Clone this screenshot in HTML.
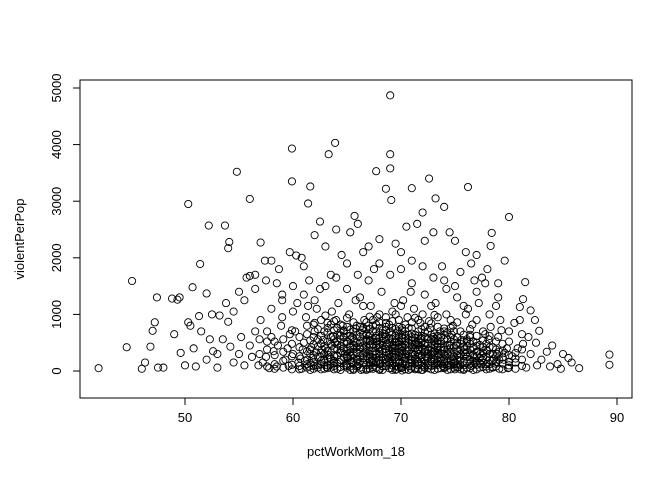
<!DOCTYPE html>
<html><head><meta charset="utf-8"><style>
body{margin:0;background:#fff}
svg{display:block;font-family:"Liberation Sans",sans-serif}
</style></head><body>
<svg id="chart" width="672" height="480">
<rect x="80" y="80" width="552" height="318" fill="none" stroke="#000"/>
<g id="pts"></g>
<g id="axes"></g>
<text x="356" y="456" text-anchor="middle" font-size="13">pctWorkMom_18</text>
<text transform="translate(24,239) rotate(-90)" text-anchor="middle" font-size="13">violentPerPop</text>
</svg>
<script>
const xTicks=[50,60,70,80,90];
const yTicks=[0,1000,2000,3000,4000,5000];
const outliers="69,4870;63.9,4030;63.3,3830;69,3830;59.9,3930;69,3580;67.7,3530;54.8,3520;59.9,3350;61.6,3260;71,3230;68.6,3220;76.2,3250;72.6,3400;50.3,2950;69.1,3020;65.7,2740;56,3040;73.2,3050;74,2900;72,2800;61.4,2960;64,2500;66,2600;80,2720;78.4,2440;78.3,2210;52.2,2570;53.7,2570;54.1,2280;57,2270;54,2170;59.7,2100;60.3,2040;58,1950;62.5,2640;65.3,2450;67,2200;70,2100;71.5,2600;73,2450;75,2300;76,2100;77,2050;79.6,1950;45.1,1590;47.4,1300;49.5,1300;49.3,1260;51.4,1890;50.7,1480;52,1370;55,1400;48.8,1280;60.8,2000;62,2400;63,2200;64.5,2050;66.5,2100;68,2330;69.5,2250;70.5,2550;72.2,2300;74.5,2450;76.5,1900;78,1800;57.4,1950;58.7,1800;56.5,1700;61,1850;63.5,1700;65,1900;67.5,1800;71,1950;73.8,1850;75.5,1750;77.5,1650;79,1550;81.5,1570;81.3,1270;81,1130;82,1070;80.5,850;82.8,710;82.4,900;84,450;83.5,340;85,300;85.5,230;84.8,40;86.5,50;89.3,290;89.3,110;42,50;44.6,420;46,40;46.3,150;46.8,430;47,710;47.2,860;47.5,60;49.6,320;50,100;50.3,860;50.5,800;51,80;51.3,970;52.3,560;52.6,350;53,60;53.2,980;53.5,560;54,870;54.2,430;55.2,600;55.7,1650;56,1680;52.5,1000;53.8,1200;54.5,1050;55.5,1250;56.5,1450;57.5,1600;58.5,1550;59,1350;60,1500;61.5,1600;62.5,1450;52,200;53,300;54.5,150;55,300;55.5,100;56,450;56.5,700;57,900;57.5,250;58,600;58.5,80;59,950;59.5,400;51.5,700;50.8,400;48,60;49,650;84.5,120;83,200;82.5,500;83.8,80;85.8,150;82,300;81.8,600;80.8,400;81.2,200";
const core="60,300;60.5,150;61,500;61.5,80;62,700;62.5,250;63,400;63.5,120;64,900;64.5,350;65,60;65.5,600;66,200;66.5,450;67,800;67.5,100;68,300;68.5,650;69,150;69.5,500;70,50;70.5,350;71,750;71.5,200;72,400;72.5,100;73,600;73.5,280;74,50;74.5,450;75,150;75.5,700;76,300;76.5,90;77,500;77.5,200;78,350;78.5,60;79,600;79.5,200;80,100;60.2,700;61.2,950;62.2,1100;63.2,850;64.2,1200;65.2,1000;66.2,1300;67.2,1150;68.2,1400;69.2,1050;70.2,1250;71.2,1100;72.2,1350;73.2,1200;74.2,1000;75.2,1300;76.2,1100;77.2,1200;78.2,1000;79.2,900;60.8,40;61.8,230;62.8,550;63.8,90;64.8,300;65.8,750;66.8,40;67.8,520;68.8,230;69.8,900;70.8,130;71.8,560;72.8,30;73.8,350;74.8,800;75.8,40;76.8,250;77.8,650;78.8,130;79.8,400;59.3,200;58.2,350;57.2,150;56.2,250;57.8,50;59.7,650;58.9,800;66.3,20;67.3,180;68.3,90;69.3,320;70.3,210;71.3,30;72.3,260;73.3,140;74.3,380;75.3,70;64.3,160;65.3,410;63.3,280;62.3,60;66.7,330;67.7,620;68.7,480;69.7,700;70.7,560;71.7,420;72.7,760;73.7,520;74.7,640;65.7,520;64.7,720;63.7,620;62.7,380;61.7,420;60.7,220;67.1,250;68.1,130;69.1,50;70.1,420;71.1,300;72.1,80;73.1,200;74.1,270;75.1,450;76.1,520;77.1,350;78.1,560;66.1,120;65.1,230;64.1,470;63.1,70;62.1,330;61.1,180;67.9,400;68.9,280;69.9,160;70.9,40;71.9,620;72.9,330;73.9,90;74.9,200;75.9,380;76.9,150;77.9,80;78.9,300;79.9,50;66.9,560;65.9,340;64.9,100;63.9,500;62.9,200;61.9,600;60.9,380;67.4,40;68.4,560;69.4,400;70.4,620;71.4,500;72.4,220;73.4,430;74.4,110;75.4,240;76.4,640;77.4,120;66.4,720;65.4,160;64.4,630;63.4,240;68.6,850;70.6,950;72.6,880;74.6,900;66.6,900;64.6,800;76.6,820;69.6,30;71.6,370;73.6,700;75.6,550;67.6,350;65.6,40;63.6,450;61.6,300;77.6,420;78.6,220;79.6,320;80.6,150;81.6,60;82.6,100;80.3,260;81.3,480;79.3,720;78.3,780;59.6,90;58.6,450;57.6,700;56.8,100;68,20;70,80;72,20;66,90;74,120;69,700;71,480;67,610;73,350;65,270;75,30;63,980;68,1000;70,1150;72,1000;74,750;76,1000;62,850;60,1050;58,1100;77,900;80,700;81,900;59,1250;61,1350;63,1500;65,1450;67,1600;69,1700;71,1550;73,1650;75,1500;77,1400;79,1300;66,1700;70,1800;72,1850;74,1600;68,1900;64,1650;62,1250;60.4,1200;76.8,1600;78.8,1150;70.9,1400;66.5,1150;67.8,950;69.4,1200;71.8,850;73.4,950;65.8,1250;63.6,1050;61.4,1150;75.8,1150;74.2,1450;77.8,1550;72.8,1150";
const dense="58.3:120,280,520,40|59.1:60,340,180,560|59.9:110,260,480,30,720|60.6:90,420,260,600,30|61.3:60,200,350,650,120,800|61.9:40,150,280,470,820,90|62.6:30,180,320,480,120,620,900|63.2:100,220,360,520,50,680,760|63.8:30,180,260,400,560,720,140,880|64.4:70,200,320,440,560,680,20,820|65.0:130,240,360,480,520,660,90,780,940|65.6:20,150,280,380,460,560,700,230,860|66.2:60,160,260,380,500,600,680,780,420|66.8:110,190,270,370,430,520,660,740,860,20|67.4:70,140,220,290,410,480,560,700,800,900|68.0:40,120,200,260,340,420,480,580,680,760,860|68.6:90,150,210,330,390,440,540,600,720,780,950|69.2:20,100,180,250,360,420,460,560,640,760,880|69.8:60,130,200,270,330,390,460,520,600,660,780|70.4:30,110,170,240,290,380,460,530,580,700,820|71.0:80,150,190,260,330,420,540,600,660,860|71.6:30,100,160,250,300,380,460,540,620,700,900|72.2:60,130,190,330,370,460,500,600,680,780|72.8:90,170,210,280,360,420,500,560,640,840|73.4:40,110,180,240,320,380,480,540,620,780|74.0:70,150,210,300,380,420,560,640,700|74.6:30,100,180,260,330,400,520,600,760|75.2:60,120,200,280,350,500,600,860|75.8:20,100,170,260,330,430,520,640|76.4:50,130,200,290,380,480,600,740|77.0:30,110,180,260,340,440,620|77.6:70,150,230,320,540,700|78.2:40,120,200,300,420,620|78.8:80,160,260,380,520|79.4:30,130,240,360,480|80.0:60,160,280,520|80.6:40,220,320|81.2:90,380,650|57.6:80,380,520|56.9:300,560|65.3:80,330,620|67.1:160,350,540,960|69.5:240,580,1000|71.3:220,480,940|73.1:130,570,990|70.1:10,520,720";
const dense2="61.6:20,140,380,540|62.3:100,250,430,560,740|62.9:40,150,300,440,700|63.5:60,210,330,480,600,820|64.1:40,130,270,380,520,640,760|64.7:90,240,400,500,600,700|65.3:20,190,270,430,560,730|65.9:80,200,320,420,500,640,800|66.5:30,140,230,310,400,540,640,760|67.1:40,100,210,300,460,520,650,740|67.7:60,160,240,300,440,520,580,700,820|68.3:20,80,180,240,380,460,530,620,720|68.9:50,130,200,300,370,500,580,680,820|69.5:20,90,160,290,340,440,520,620,740|70.1:60,140,240,300,360,440,580,640,760|70.7:20,90,200,260,350,420,500,640,760|71.3:50,130,210,290,400,460,580,640|71.9:20,100,160,240,280,420,500,580,740|72.5:50,140,240,300,380,480,560,700|73.1:20,100,170,290,340,460,520,660|73.7:50,130,200,300,420,480,600|74.3:20,90,170,230,310,460,560,680|74.9:60,120,260,340,420,560,700|75.5:30,110,190,300,380,480|76.1:60,150,250,330,440,560|76.7:20,110,180,280,420,520|77.3:60,140,230,300,460|77.9:30,120,250,380,480|78.5:70,180,300,420|79.1:40,200,340";
let points=(outliers+";"+core).split(";").map(s=>s.split(",").map(Number));
(dense+"|"+dense2).split("|").forEach(r=>{const [x,ys]=r.split(":");ys.split(",").forEach(y=>points.push([+x,+y]));});
const xs=v=>185+(v-50)*10.8;
const ys=v=>371-v*0.0566;
const NS="http://www.w3.org/2000/svg";
const g=document.getElementById("pts");
points.forEach(p=>{const c=document.createElementNS(NS,"circle");
c.setAttribute("cx",xs(p[0]));c.setAttribute("cy",ys(p[1]));c.setAttribute("r",3.6);
c.setAttribute("fill","none");c.setAttribute("stroke","#000");c.setAttribute("stroke-width","0.9");


g.appendChild(c);});
const a=document.getElementById("axes");
function el(t,at,txt){const e=document.createElementNS(NS,t);for(const k in at)e.setAttribute(k,at[k]);if(txt!==undefined)e.textContent=txt;a.appendChild(e);return e;}
const xl=el("line",{x1:xs(50),x2:xs(90),y1:398,y2:398,stroke:"#000"});


xTicks.forEach(t=>{const l=el("line",{x1:xs(t),x2:xs(t),y1:398,y2:405,stroke:"#000"});


const tx=el("text",{x:xs(t),y:422,"text-anchor":"middle","font-size":"13"},t);

});
const yl=el("line",{x1:80,x2:80,y1:ys(0),y2:ys(5000),stroke:"#000"});


yTicks.forEach(t=>{const l=el("line",{x1:73,x2:80,y1:ys(t),y2:ys(t),stroke:"#000"});


const tx=el("text",{transform:`translate(61,${ys(t)}) rotate(-90)`,"text-anchor":"middle","font-size":"13"},t);

});
</script>
</body></html>
